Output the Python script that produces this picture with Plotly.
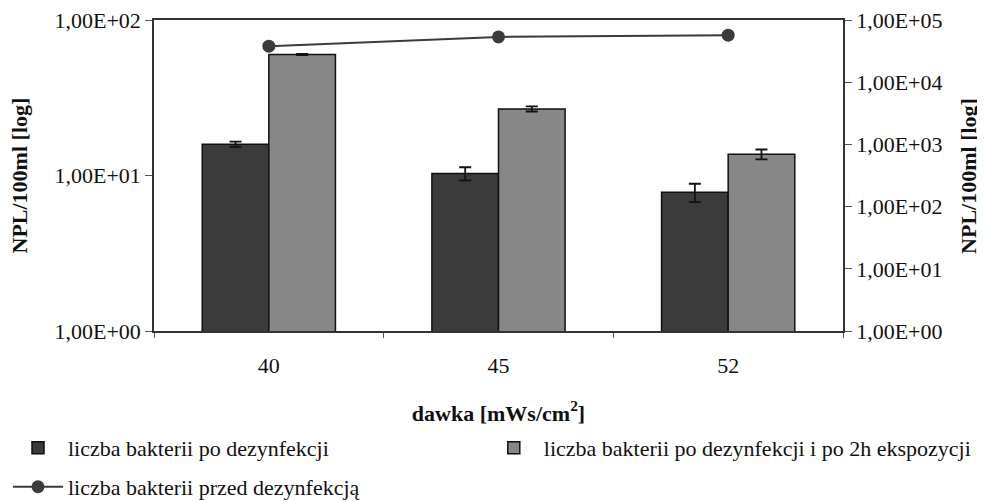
import plotly.graph_objects as go

categories = ["40", "45", "52"]
po_dezynfekcji = [15.9, 10.3, 7.8]
po_dezynfekcji_err = [0.6, 1.0, 1.05]
po_2h = [60.0, 26.8, 13.7]
po_2h_err = [0.5, 1.0, 1.0]
przed_dezynfekcja = [38000, 53500, 57000]

left_tickvals = [1, 10, 100]
left_ticktext = ["1,00E+00", "1,00E+01", "1,00E+02"]
right_tickvals = [1, 10, 100, 1000, 10000, 100000]
right_ticktext = ["1,00E+00", "1,00E+01", "1,00E+02", "1,00E+03", "1,00E+04", "1,00E+05"]
y_title = "NPL/100ml [log]"

FONT = "Liberation Serif, Times New Roman, serif"
FS = 22

fig = go.Figure()
fig.add_trace(go.Bar(
    x=categories, y=po_dezynfekcji, name="liczba bakterii po dezynfekcji",
    marker=dict(color="#3b3b3b", line=dict(color="#111111", width=1.5)),
    error_y=dict(type="data", array=po_dezynfekcji_err, color="#111111", thickness=1.8, width=6),
    legend="legend",
))
fig.add_trace(go.Bar(
    x=categories, y=po_2h, name="liczba bakterii po dezynfekcji i po 2h ekspozycji",
    marker=dict(color="#878787", line=dict(color="#111111", width=1.5)),
    error_y=dict(type="data", array=po_2h_err, color="#111111", thickness=1.8, width=6),
    legend="legend2",
))
fig.add_trace(go.Scatter(
    x=categories, y=przed_dezynfekcja, name="liczba bakterii przed dezynfekcją",
    mode="lines+markers", yaxis="y2",
    line=dict(color="#3b3b3b", width=2),
    marker=dict(color="#3b3b3b", size=13),
    legend="legend3",
))

legend_common = dict(orientation="v", xref="container", yref="container",
                     xanchor="left", yanchor="top", itemwidth=50,
                     font=dict(family=FONT, size=FS),
                     bgcolor="rgba(0,0,0,0)")

fig.update_layout(
    width=977, height=494,
    margin=dict(l=146, r=142, t=12, b=171, autoexpand=False),
    paper_bgcolor="white", plot_bgcolor="white",
    font=dict(family=FONT, size=FS, color="#111111"),
    barmode="group", bargap=0.42, bargroupgap=0,
    showlegend=True,
    legend=dict(x=0.0, y=0.152, **legend_common),
    legend2=dict(x=0.487, y=0.152, **legend_common),
    legend3=dict(x=0.0, y=0.073, **legend_common),
    xaxis=dict(
        type="category", showline=True, linecolor="#333333", linewidth=1.5, mirror=True,
        ticks="outside", tickson="boundaries", ticklen=5, tickcolor="#555555",
        ticklabelstandoff=14, automargin=False,
        tickfont=dict(family=FONT, size=FS),
        title=dict(text="<b>dawka [mWs/cm<sup>2</sup>]</b>", font=dict(family=FONT, size=FS), standoff=28),
    ),
    yaxis=dict(
        type="log", range=[0, 2], tickvals=left_tickvals, ticktext=left_ticktext,
        showline=True, linecolor="#333333", linewidth=1.5, showgrid=False,
        ticks="outside", ticklen=7, tickcolor="#555555", automargin=False,
        ticklabeloverflow="allow",
        tickfont=dict(family=FONT, size=FS),
    ),
    yaxis2=dict(
        type="log", range=[0, 5], overlaying="y", side="right",
        tickvals=right_tickvals, ticktext=right_ticktext,
        showline=True, linecolor="#333333", linewidth=1.5, showgrid=False,
        ticks="outside", ticklen=7, tickcolor="#555555", automargin=False,
        ticklabeloverflow="allow",
        tickfont=dict(family=FONT, size=FS),
    ),
    annotations=[
        dict(text="<b>" + y_title + "</b>", xref="paper", yref="paper", x=-0.1945, y=0.5,
             textangle=-90, showarrow=False, xanchor="center", yanchor="middle",
             font=dict(family=FONT, size=FS)),
        dict(text="<b>" + y_title + "</b>", xref="paper", yref="paper", x=1.182, y=0.5,
             textangle=-90, showarrow=False, xanchor="center", yanchor="middle",
             font=dict(family=FONT, size=FS)),
    ],
)

fig.write_html("out.html")
